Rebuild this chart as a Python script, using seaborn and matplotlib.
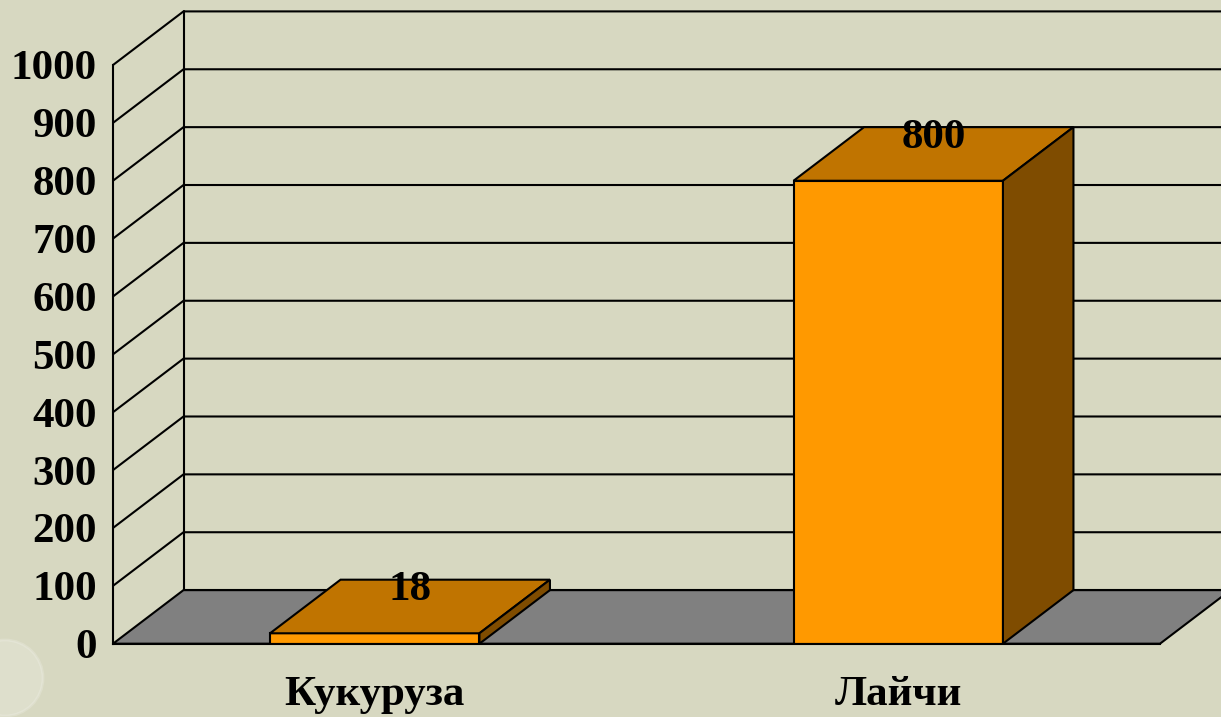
import numpy as np
import pandas as pd
import matplotlib
matplotlib.use("Agg")
import matplotlib.pyplot as plt
from matplotlib.patches import Polygon, Ellipse
import seaborn as sns

# данные
categories = ["Кукуруза", "Лайчи"]
values = [18, 800]
y_ticks = [0, 100, 200, 300, 400, 500, 600, 700, 800, 900, 1000]

BG = "#D7D8C1"
FRONT = "#FF9900"
TOP = "#C07400"
SIDE = "#7F4C00"
FLOOR = "#808080"

sns.set_style("white")
plt.rcParams["font.family"] = ["Liberation Serif", "DejaVu Serif"]
plt.rcParams["font.weight"] = "bold"

fig = plt.figure(figsize=(12.21, 7.17), dpi=100, facecolor=BG)
ax = fig.add_axes([113 / 1221, 73.3 / 717, 1047 / 1221, 578.7 / 717])
ax.set_facecolor("none")

df = pd.DataFrame({"cat": categories, "val": values})
sns.barplot(data=df, x="cat", y="val", color=FRONT, width=0.4, saturation=1,
            edgecolor="black", linewidth=1.5, ax=ax, zorder=5)

ax.set_xlim(-0.5, 1.5)
ax.set_ylim(0, 1000)

# псевдо-3D смещение глубины
dx = 70.5 / 523.5
dy = 53.6 / 0.5787
xr = 1.75  # за правым краем рисунка

# сетка на задней стенке и диагонали левой стенки
for v in y_ticks[1:]:
    ax.plot([-0.5, -0.5 + dx, xr], [v, v + dy, v + dy], color="black",
            lw=1.5, clip_on=False, zorder=1)
ax.plot([-0.5 + dx, -0.5 + dx], [dy, 1000 + dy], color="black", lw=1.5,
        clip_on=False, zorder=1)

# пол
floor = Polygon([(-0.5, 0), (1.5, 0), (1.5 + dx, dy), (-0.5 + dx, dy)],
                closed=True, facecolor=FLOOR, edgecolor="black", lw=1.5,
                clip_on=False, zorder=2)
ax.add_patch(floor)
ax.plot([-0.5 + dx, xr], [dy, dy], color="black", lw=1.5, clip_on=False, zorder=2)

# верх и бок столбцов
for bar, v in zip(ax.patches[:len(values)], values):
    x0 = bar.get_x()
    w = bar.get_width()
    h = bar.get_height()
    top = Polygon([(x0, h), (x0 + w, h), (x0 + w + dx, h + dy), (x0 + dx, h + dy)],
                  closed=True, facecolor=TOP, edgecolor="black", lw=1.5,
                  clip_on=False, zorder=5)
    side = Polygon([(x0 + w, 0), (x0 + w + dx, dy), (x0 + w + dx, h + dy), (x0 + w, h)],
                   closed=True, facecolor=SIDE, edgecolor="black", lw=1.5,
                   clip_on=False, zorder=5)
    ax.add_patch(top)
    ax.add_patch(side)
    ax.text(x0 + w / 2 + dx / 2, v + 57, f"{v}", ha="center", va="baseline",
            fontsize=31, fontweight="bold", color="black", zorder=6, clip_on=False)

# оси
for s in ["top", "right"]:
    ax.spines[s].set_visible(False)
for s in ["left", "bottom"]:
    ax.spines[s].set_linewidth(1.5)
    ax.spines[s].set_color("black")
    ax.spines[s].set_zorder(7)

ax.set_yticks(y_ticks)
ax.set_yticklabels([str(t) for t in y_ticks])
ax.tick_params(axis="y", direction="out", length=6.5, width=1.5, pad=5,
               labelsize=31, colors="black")
ax.set_xticks([0, 1])
ax.set_xticklabels(categories)
ax.set_xticks([-0.5, 0.5, 1.5], minor=True)
ax.tick_params(axis="x", which="major", length=0, pad=23, labelsize=31, colors="black")
ax.tick_params(axis="x", which="minor", direction="out", length=6.5, width=1.5)
for lbl in ax.get_xticklabels() + ax.get_yticklabels():
    lbl.set_fontweight("bold")
ax.set_xlabel("")
ax.set_ylabel("")

# декоративный пузырь в углу
fig.patches.append(Ellipse((5 / 1221, 1 - 678 / 717), 76 / 1221, 76 / 717,
                           transform=fig.transFigure, facecolor="white", alpha=0.18,
                           edgecolor="white", lw=2))

fig.savefig("out.png", dpi=100, facecolor=BG)
